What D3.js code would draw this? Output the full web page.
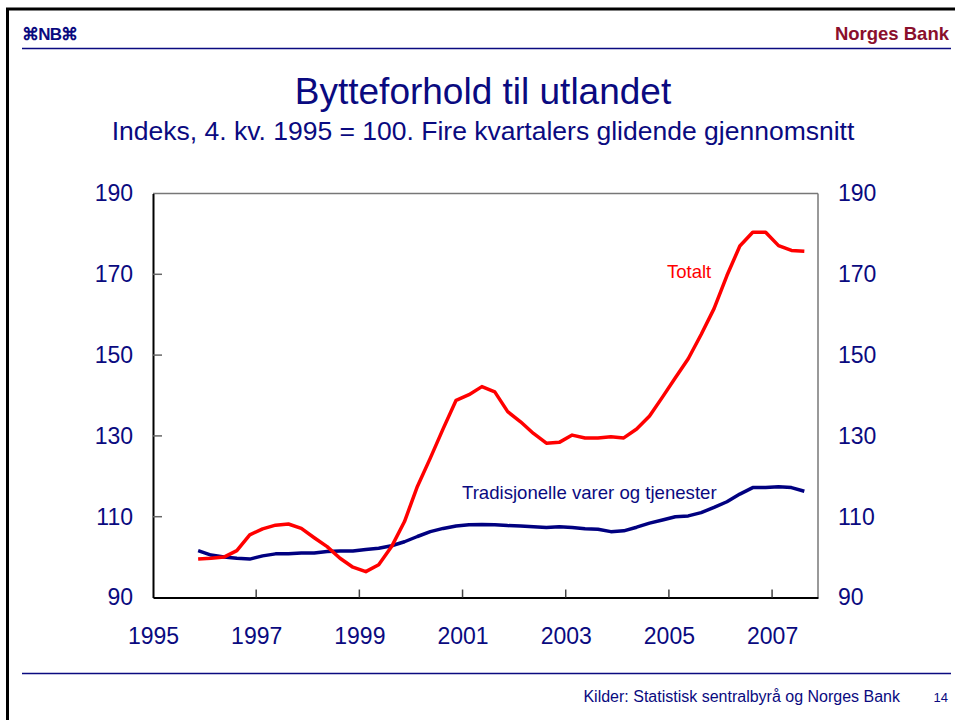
<!DOCTYPE html>
<html>
<head>
<meta charset="utf-8">
<script src="https://cdn.jsdelivr.net/npm/d3@7"></script>
<style>
  html, body { margin: 0; padding: 0; background: #fff; }
  svg { display: block; }
  text { font-family: "Liberation Sans", Arial, sans-serif; }
</style>
</head>
<body>
<svg id="chart" width="955" height="720"></svg>
<script>
const quarters = [
  "1995K4",
  "1996K1","1996K2","1996K3","1996K4",
  "1997K1","1997K2","1997K3","1997K4",
  "1998K1","1998K2","1998K3","1998K4",
  "1999K1","1999K2","1999K3","1999K4",
  "2000K1","2000K2","2000K3","2000K4",
  "2001K1","2001K2","2001K3","2001K4",
  "2002K1","2002K2","2002K3","2002K4",
  "2003K1","2003K2","2003K3","2003K4",
  "2004K1","2004K2","2004K3","2004K4",
  "2005K1","2005K2","2005K3","2005K4",
  "2006K1","2006K2","2006K3","2006K4",
  "2007K1","2007K2","2007K3"
];
const totalt = [
  99.5,
  99.7, 100.0, 101.6, 105.5,
  107.0, 107.9, 108.2, 107.1,
  104.8, 102.6, 99.7, 97.5,
  96.4, 98.1, 102.6, 108.8,
  117.5, 124.5, 131.8, 138.8,
  140.2, 142.2, 140.9, 136.0,
  133.5, 130.6, 128.2, 128.4,
  130.2, 129.5, 129.5, 129.8,
  129.5, 131.7, 134.9, 139.6,
  144.4, 149.1, 155.1, 161.5,
  169.7, 177.0, 180.4, 180.4,
  177.1, 175.9, 175.7
];
const tradisjonelle = [
  101.6,
  100.5, 100.0, 99.7, 99.5,
  100.3, 100.8, 100.8, 101.0,
  101.0, 101.4, 101.5, 101.5,
  101.9, 102.2, 102.8, 103.8,
  105.1, 106.3, 107.1, 107.7,
  108.0, 108.1, 108.0, 107.8,
  107.7, 107.5, 107.3, 107.5,
  107.3, 107.0, 106.9, 106.3,
  106.5, 107.4, 108.4, 109.2,
  110.0, 110.2, 111.0, 112.3,
  113.7, 115.6, 117.2, 117.2,
  117.4, 117.2, 116.3
];
const yTicks = [90, 110, 130, 150, 170, 190];
const xTicks = [1995, 1997, 1999, 2001, 2003, 2005, 2007];

const title = "Bytteforhold til utlandet";
const subtitle = "Indeks, 4. kv. 1995 = 100. Fire kvartalers glidende gjennomsnitt";
const source = "Kilder: Statistisk sentralbyrå og Norges Bank";

const navy = "#0a0a80";
const svg = d3.select("#chart");

// frame of slide
svg.append("line").attr("x1", 6).attr("x2", 955).attr("y1", 9).attr("y2", 9)
  .attr("stroke", "#000").attr("stroke-width", 3);
svg.append("line").attr("x1", 7.5).attr("x2", 7.5).attr("y1", 8).attr("y2", 720)
  .attr("stroke", "#000").attr("stroke-width", 3);

// header
svg.append("text").attr("x", 22).attr("y", 40)
  .attr("font-family", "DejaVu Sans").attr("font-size", 17).attr("font-weight", "bold")
  .attr("fill", navy).attr("letter-spacing", -0.8).text("⌘NB⌘");
svg.append("text").attr("x", 949).attr("y", 40).attr("text-anchor", "end")
  .attr("font-size", 18.5).attr("font-weight", "bold").attr("fill", "#8a0f2c").text("Norges Bank");
svg.append("line").attr("x1", 22).attr("x2", 951).attr("y1", 48.5).attr("y2", 48.5)
  .attr("stroke", navy).attr("stroke-width", 1.5);

// footer
svg.append("line").attr("x1", 22).attr("x2", 951).attr("y1", 673.5).attr("y2", 673.5)
  .attr("stroke", navy).attr("stroke-width", 1.5);
svg.append("text").attr("x", 900).attr("y", 702).attr("text-anchor", "end")
  .attr("font-size", 16).attr("fill", navy).text(source);
svg.append("text").attr("x", 948).attr("y", 702).attr("text-anchor", "end")
  .attr("font-size", 13).attr("fill", navy).text("14");

// titles
svg.append("text").attr("x", 483).attr("y", 104).attr("text-anchor", "middle")
  .attr("font-size", 37).attr("fill", navy).text(title);
svg.append("text").attr("x", 483).attr("y", 140).attr("text-anchor", "middle")
  .attr("font-size", 26.5).attr("fill", navy).text(subtitle);

// scales
const pLeft = 153, pRight = 818, pTop = 193.5, pBottom = 597.5;
const x = d3.scaleLinear().domain([1995, 2007.89]).range([pLeft, pRight]);
const y = d3.scaleLinear().domain([90, 190]).range([pBottom, pTop]);
const qx = q => +q.slice(0, 4) + (+q.slice(5) - 0.5) / 4;

// plot frame (top/right gray)
svg.append("line").attr("x1", pLeft).attr("x2", pRight).attr("y1", pTop).attr("y2", pTop)
  .attr("stroke", "#777").attr("stroke-width", 1.5);
svg.append("line").attr("x1", pRight).attr("x2", pRight).attr("y1", pTop).attr("y2", pBottom)
  .attr("stroke", "#777").attr("stroke-width", 1.5);

// left y axis
const yAxisL = d3.axisLeft(y).tickValues(yTicks).tickSize(0).tickPadding(20);
const gL = svg.append("g").attr("transform", `translate(${pLeft},0)`).call(yAxisL);
gL.select(".domain").attr("stroke", "#000").attr("stroke-width", 2);
gL.selectAll(".tick text").attr("font-size", 23).attr("fill", navy)
  .attr("font-family", "Liberation Sans, Arial, sans-serif");
// inward ticks
svg.append("g").selectAll("line").data(yTicks.filter(v => v > 90 && v < 190)).join("line")
  .attr("x1", pLeft).attr("x2", pLeft + 9).attr("y1", d => y(d)).attr("y2", d => y(d))
  .attr("stroke", "#666").attr("stroke-width", 1.5);

// right y axis labels
const yAxisR = d3.axisRight(y).tickValues(yTicks).tickSize(0).tickPadding(20);
const gR = svg.append("g").attr("transform", `translate(${pRight},0)`).call(yAxisR);
gR.select(".domain").remove();
gR.selectAll(".tick text").attr("font-size", 23).attr("fill", navy)
  .attr("font-family", "Liberation Sans, Arial, sans-serif");

// x axis
const xAxis = d3.axisBottom(x).tickValues(xTicks).tickFormat(d3.format("d")).tickSize(0).tickPadding(30);
const gX = svg.append("g").attr("transform", `translate(0,${pBottom})`).call(xAxis);
gX.select(".domain").attr("stroke", "#000").attr("stroke-width", 2);
gX.selectAll(".tick text").attr("font-size", 23).attr("fill", navy)
  .attr("font-family", "Liberation Sans, Arial, sans-serif");
svg.append("g").selectAll("line").data(xTicks.filter(v => v > 1995)).join("line")
  .attr("x1", d => x(d)).attr("x2", d => x(d)).attr("y1", pBottom).attr("y2", pBottom - 8)
  .attr("stroke", "#444").attr("stroke-width", 1.5);

// lines
const line = d3.line().x((d, i) => x(qx(quarters[i]))).y(d => y(d));
svg.append("path").datum(tradisjonelle).attr("d", line)
  .attr("fill", "none").attr("stroke", "#000080").attr("stroke-width", 3.5)
  .attr("stroke-linejoin", "round");
svg.append("path").datum(totalt).attr("d", line)
  .attr("fill", "none").attr("stroke", "#ff0000").attr("stroke-width", 3.5)
  .attr("stroke-linejoin", "round");

// series labels
svg.append("text").attr("x", 667).attr("y", 278).attr("font-size", 18.5)
  .attr("fill", "#ff0000").text("Totalt");
svg.append("text").attr("x", 462).attr("y", 499).attr("font-size", 18.6)
  .attr("fill", navy).text("Tradisjonelle varer og tjenester");
</script>
</body>
</html>
